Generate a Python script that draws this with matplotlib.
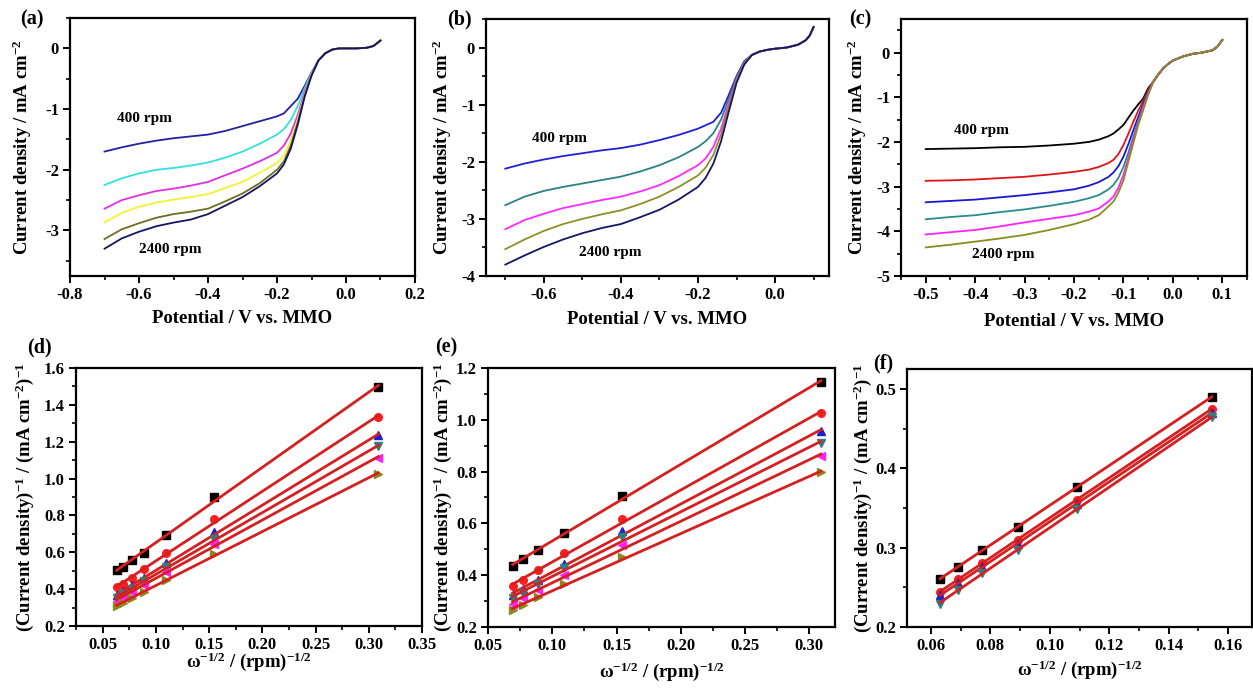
import numpy as np
import matplotlib
matplotlib.use("Agg")
import matplotlib.pyplot as plt
from matplotlib.ticker import MultipleLocator, FormatStrFormatter

plt.rcParams['font.family'] = ['Liberation Serif', 'DejaVu Serif']
plt.rcParams['font.weight'] = 'bold'
plt.rcParams['axes.labelweight'] = 'bold'
plt.rcParams['axes.unicode_minus'] = False
plt.rcParams['mathtext.fontset'] = 'custom'
plt.rcParams['mathtext.rm'] = 'Liberation Serif:bold'
plt.rcParams['mathtext.it'] = 'Liberation Serif:italic:bold'
plt.rcParams['mathtext.bf'] = 'Liberation Serif:bold'

# ---------------- LSV data, panel (a) ----------------
pot_a = [-0.70, -0.65, -0.60, -0.55, -0.50, -0.45, -0.40, -0.35, -0.30, -0.25,
         -0.20, -0.18, -0.16, -0.14, -0.12, -0.10,
         -0.08, -0.06, -0.04, -0.02, 0.00, 0.03, 0.06, 0.08, 0.10]
tail_a = [-0.20, -0.08, -0.02, 0.0, 0.0, 0.0, 0.01, 0.04, 0.13]
a_400 = [-1.70, -1.63, -1.57, -1.52, -1.48, -1.45, -1.42, -1.36, -1.28, -1.20,
         -1.12, -1.07, -0.95, -0.83, -0.62, -0.40]
a_800 = [-2.25, -2.14, -2.06, -2.00, -1.97, -1.93, -1.88, -1.80, -1.70, -1.57,
         -1.42, -1.33, -1.18, -0.95, -0.66, -0.40]
a_1200 = [-2.64, -2.50, -2.42, -2.35, -2.31, -2.26, -2.20, -2.09, -1.98, -1.86,
          -1.72, -1.60, -1.40, -1.10, -0.72, -0.42]
a_1600 = [-2.87, -2.71, -2.61, -2.54, -2.49, -2.45, -2.40, -2.30, -2.20, -2.05,
          -1.89, -1.76, -1.52, -1.17, -0.76, -0.43]
a_2000 = [-3.14, -2.98, -2.88, -2.79, -2.73, -2.69, -2.64, -2.52, -2.39, -2.22,
          -2.00, -1.86, -1.60, -1.22, -0.78, -0.44]
a_2400 = [-3.30, -3.13, -3.02, -2.93, -2.87, -2.82, -2.73, -2.59, -2.45, -2.27,
          -2.06, -1.91, -1.65, -1.26, -0.80, -0.45]
curves_a = [a_400, a_800, a_1200, a_1600, a_2000, a_2400]
colors_a = ['#2222a4', '#33e0e0', '#e22fe2', '#f2f235', '#6e6e22', '#151562']

# ---------------- LSV data, panel (b) ----------------
pot_b = [-0.70, -0.65, -0.60, -0.55, -0.50, -0.45, -0.40, -0.35, -0.30, -0.25,
         -0.20, -0.18, -0.16, -0.14, -0.12, -0.10, -0.08,
         -0.06, -0.04, -0.02, 0.00, 0.03, 0.06, 0.08, 0.09, 0.10]
tail_b = [-0.13, -0.07, -0.04, -0.02, 0.0, 0.05, 0.13, 0.21, 0.36]
b_400 = [-2.12, -2.03, -1.96, -1.90, -1.85, -1.80, -1.76, -1.70, -1.62, -1.53,
         -1.42, -1.36, -1.30, -1.14, -0.83, -0.50, -0.24]
b_900 = [-2.76, -2.61, -2.51, -2.44, -2.38, -2.32, -2.26, -2.17, -2.06, -1.92,
         -1.74, -1.64, -1.50, -1.26, -0.90, -0.53, -0.26]
b_1600 = [-3.18, -3.02, -2.91, -2.81, -2.74, -2.67, -2.61, -2.52, -2.41, -2.25,
          -2.06, -1.94, -1.74, -1.42, -0.98, -0.56, -0.27]
b_2000 = [-3.53, -3.36, -3.21, -3.09, -3.00, -2.92, -2.85, -2.74, -2.61, -2.44,
          -2.24, -2.10, -1.88, -1.52, -1.04, -0.58, -0.28]
b_2400 = [-3.80, -3.64, -3.49, -3.36, -3.25, -3.16, -3.09, -2.97, -2.84, -2.66,
          -2.44, -2.28, -2.03, -1.64, -1.12, -0.62, -0.30]
curves_b = [b_400, b_900, b_1600, b_2000, b_2400]
colors_b = ['#1f1fd6', '#2a8282', '#ff2aff', '#8f8f28', '#161666']

# ---------------- LSV data, panel (c) ----------------
pot_c = [-0.50, -0.45, -0.40, -0.35, -0.30, -0.25, -0.20, -0.17, -0.15, -0.13,
         -0.12, -0.11, -0.10, -0.09, -0.08, -0.07, -0.06, -0.05,
         -0.04, -0.03, -0.02, -0.01, 0.00, 0.02, 0.04, 0.06, 0.08, 0.09, 0.10]
tail_c = [-0.66, -0.50, -0.36, -0.26, -0.18, -0.09, -0.03, 0.0, 0.05, 0.13, 0.28]
c_400 = [-2.16, -2.15, -2.14, -2.12, -2.11, -2.08, -2.04, -2.00, -1.95, -1.87,
         -1.81, -1.72, -1.62, -1.46, -1.30, -1.16, -1.03, -0.80]
c_800 = [-2.87, -2.86, -2.84, -2.81, -2.78, -2.73, -2.67, -2.62, -2.56, -2.47,
         -2.40, -2.27, -2.07, -1.82, -1.55, -1.30, -1.08, -0.84]
c_1200 = [-3.35, -3.32, -3.29, -3.24, -3.19, -3.13, -3.06, -2.98, -2.90, -2.78,
          -2.68, -2.54, -2.33, -2.05, -1.74, -1.44, -1.16, -0.88]
c_1600 = [-3.73, -3.68, -3.64, -3.57, -3.51, -3.43, -3.34, -3.26, -3.19, -3.06,
          -2.96, -2.80, -2.56, -2.24, -1.89, -1.53, -1.21, -0.91]
c_2000 = [-4.07, -4.02, -3.97, -3.89, -3.80, -3.72, -3.64, -3.56, -3.49, -3.33,
          -3.22, -3.02, -2.74, -2.36, -1.96, -1.58, -1.25, -0.93]
c_2400 = [-4.36, -4.30, -4.23, -4.16, -4.08, -3.97, -3.84, -3.74, -3.64, -3.44,
          -3.33, -3.13, -2.86, -2.44, -2.03, -1.62, -1.29, -0.95]
curves_c = [c_400, c_800, c_1200, c_1600, c_2000, c_2400]
colors_c = ['#000000', '#e01414', '#1818d2', '#2a8c8c', '#ff22ff', '#8c8c1c']

# ---------------- Koutecky-Levich data ----------------
w_d = [0.0631, 0.0691, 0.0772, 0.0892, 0.1092, 0.1545, 0.309]
kl_d = [
    [0.502, 0.520, 0.556, 0.598, 0.696, 0.900, 1.497],
    [0.410, 0.430, 0.460, 0.510, 0.596, 0.780, 1.334],
    [0.366, 0.390, 0.420, 0.460, 0.540, 0.710, 1.235],
    [0.350, 0.375, 0.400, 0.445, 0.520, 0.674, 1.175],
    [0.336, 0.357, 0.385, 0.424, 0.493, 0.647, 1.113],
    [0.310, 0.327, 0.352, 0.385, 0.450, 0.590, 1.027],
]
w_e = [0.0691, 0.0772, 0.0892, 0.1092, 0.1545, 0.309]
kl_e = [
    [0.435, 0.462, 0.497, 0.564, 0.706, 1.146],
    [0.357, 0.383, 0.419, 0.484, 0.616, 1.026],
    [0.323, 0.345, 0.381, 0.443, 0.572, 0.955],
    [0.310, 0.332, 0.365, 0.426, 0.548, 0.910],
    [0.290, 0.310, 0.342, 0.400, 0.516, 0.861],
    [0.265, 0.284, 0.316, 0.365, 0.471, 0.797],
]
w_f = [0.0631, 0.0691, 0.0772, 0.0892, 0.1092, 0.1545]
kl_f = [
    [0.260, 0.276, 0.297, 0.326, 0.376, 0.490],
    [0.244, 0.260, 0.281, 0.310, 0.360, 0.475],
    [0.240, 0.255, 0.276, 0.305, 0.355, 0.470],
    [0.229, 0.247, 0.268, 0.297, 0.349, 0.464],
]
mk = ['s', 'o', '^', 'v', '<', '>']
mk_colors = ['#000000', '#ff1e1e', '#1e1ed2', '#2f7f7f', '#ff22ff', '#8b8b1b']
fit_color = '#d42020'

fig = plt.figure(figsize=(12.53, 6.88), dpi=100)
axa = fig.add_axes([0.0559, 0.5988, 0.2753, 0.3750])
axb = fig.add_axes([0.3879, 0.5988, 0.2737, 0.3736])
axc = fig.add_axes([0.7191, 0.5988, 0.2761, 0.3736])
axd = fig.add_axes([0.0607, 0.0901, 0.2761, 0.3750])
axe = fig.add_axes([0.3895, 0.0887, 0.2769, 0.3764])
axf = fig.add_axes([0.7239, 0.0887, 0.2753, 0.3750])


def style(ax, xmaj, xmin, ymaj, ymin, xfmt, yfmt):
    for s in ax.spines.values():
        s.set_linewidth(1.6)
    ax.xaxis.set_major_locator(MultipleLocator(xmaj))
    ax.xaxis.set_minor_locator(MultipleLocator(xmin))
    ax.yaxis.set_major_locator(MultipleLocator(ymaj))
    ax.yaxis.set_minor_locator(MultipleLocator(ymin))
    ax.xaxis.set_major_formatter(FormatStrFormatter(xfmt))
    ax.yaxis.set_major_formatter(FormatStrFormatter(yfmt))
    ax.tick_params(which='major', direction='out', length=5, width=1.4,
                   labelsize=12, pad=3)
    ax.tick_params(which='minor', direction='out', length=3, width=1.2)
    ax.tick_params(top=False, right=False, which='both')


# LSV panels
for ax, pot, curves, tail, cols in [(axa, pot_a, curves_a, tail_a, colors_a),
                                     (axb, pot_b, curves_b, tail_b, colors_b),
                                     (axc, pot_c, curves_c, tail_c, colors_c)]:
    for cur, col in zip(curves, cols):
        ax.plot(pot, cur + tail, color=col, lw=1.3)
    ax.set_xlabel('Potential / V vs. MMO', fontsize=13.5)
    ax.set_ylabel('Current density / mA cm$^{-2}$', fontsize=13.5)

axa.set_xlim(-0.8, 0.2)
axa.set_ylim(-3.75, 0.5)
style(axa, 0.2, 0.1, 1, 0.5, '%.1f', '%d')
axa.text(-0.665, -1.16, '400 rpm', fontsize=11, ha='left', va='center')
axa.text(-0.60, -3.31, '2400 rpm', fontsize=11, ha='left', va='center')

axb.set_xlim(-0.75, 0.14)
axb.set_ylim(-4, 0.5)
style(axb, 0.2, 0.1, 1, 0.5, '%.1f', '%d')
axb.text(-0.63, -1.60, '400 rpm', fontsize=11, ha='left', va='center')
axb.text(-0.51, -3.59, '2400 rpm', fontsize=11, ha='left', va='center')

axc.set_xlim(-0.55, 0.15)
axc.set_ylim(-5, 0.75)
style(axc, 0.1, 0.05, 1, 0.5, '%.1f', '%d')
axc.text(-0.443, -1.75, '400 rpm', fontsize=11, ha='left', va='center')
axc.text(-0.406, -4.51, '2400 rpm', fontsize=11, ha='left', va='center')

# K-L panels
for ax, w, sets in [(axd, w_d, kl_d), (axe, w_e, kl_e), (axf, w_f, kl_f)]:
    for i, vals in enumerate(sets):
        ax.plot(w, vals, ls='none', marker=mk[i], ms=5.5, color=mk_colors[i])
        k, b0 = np.polyfit(w, vals, 1)
        xs = np.array([w[0], w[-1]])
        ax.plot(xs, k * xs + b0, color=fit_color, lw=2)
    ax.set_xlabel('ω$^{-1/2}$ / (rpm)$^{-1/2}$', fontsize=13.5)
    ax.set_ylabel('(Current density)$^{-1}$ / (mA cm$^{-2}$)$^{-1}$', fontsize=13.5)

axd.set_xlim(0.025, 0.35)
axd.set_ylim(0.2, 1.6)
style(axd, 0.05, 0.025, 0.2, 0.1, '%.2f', '%.1f')

axe.set_xlim(0.05, 0.32)
axe.set_ylim(0.2, 1.2)
style(axe, 0.05, 0.025, 0.2, 0.1, '%.2f', '%.1f')

axf.set_xlim(0.052, 0.168)
axf.set_ylim(0.2, 0.525)
style(axf, 0.02, 0.01, 0.1, 0.05, '%.2f', '%.1f')

# label positions
for ax, xl, yl in [(axa, -0.163, -0.139), (axb, -0.17, -0.128),
                   (axc, -0.178, -0.127), (axd, -0.14, -0.147),
                   (axe, -0.174, -0.13), (axf, -0.167, -0.128)]:
    ax.xaxis.set_label_coords(0.5, xl)
    ax.xaxis.label.set_verticalalignment('center')
    ax.yaxis.set_label_coords(yl, 0.5)
    ax.yaxis.label.set_verticalalignment('center')

for lab, x, y in [('(a)', 0.016, 0.971), ('(b)', 0.357, 0.971),
                  ('(c)', 0.678, 0.971), ('(d)', 0.0215, 0.4956),
                  ('(e)', 0.347, 0.4956), ('(f)', 0.697, 0.4724)]:
    fig.text(x, y, lab, fontsize=14.5, ha='left', va='center')

fig.savefig('out.png', dpi=100)
